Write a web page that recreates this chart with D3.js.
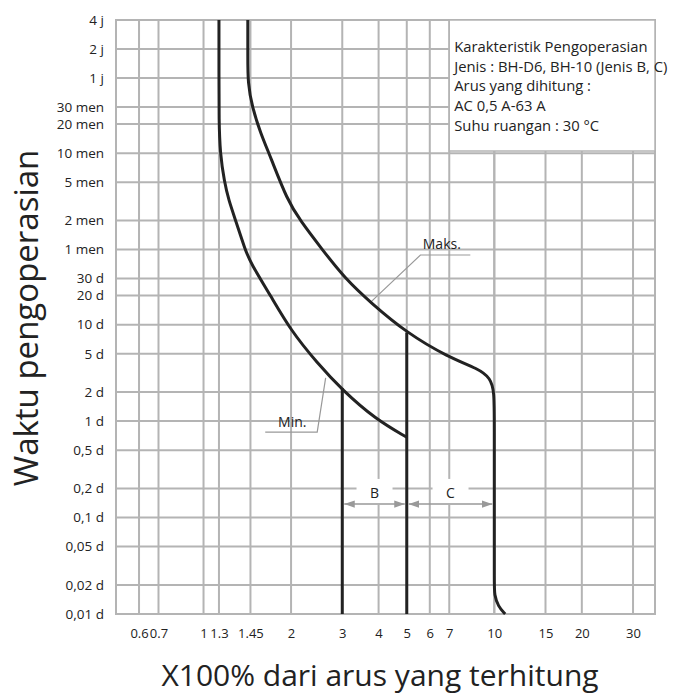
<!DOCTYPE html>
<html>
<head>
<meta charset="utf-8">
<script src="https://cdn.jsdelivr.net/npm/d3@7"></script>
<style>
  body { margin: 0; background: #fff; }
  text { font-family: "Open Sans", sans-serif; fill: #222; }
</style>
</head>
<body>
<div id="chart"></div>
<script>
// x = multiple of rated current, t = operating time in seconds
const xTicks = [0.6, 0.7, 1, 1.13, 1.45, 2, 3, 4, 5, 6, 7, 10, 15, 20, 30];
const xTickLabels = ["0.6", "0.7", "1", "1.3", "1.45", "2", "3", "4", "5", "6", "7", "10", "15", "20", "30"];
const yTicks = [14400, 7200, 3600, 1800, 1200, 600, 300, 120, 60, 30, 20, 10, 5, 2, 1, 0.5, 0.2, 0.1, 0.05, 0.02, 0.01];
const yTickLabels = ["4 j", "2 j", "1 j", "30 men", "20 men", "10 men", "5 men", "2 men", "1 men", "30 d", "20 d", "10 d", "5 d", "2 d", "1 d", "0,5 d", "0,2 d", "0,1 d", "0,05 d", "0,02 d", "0,01 d"];

// Min. curve
const minX = [1.13, 1.13, 1.13, 1.13, 1.14, 1.18, 1.22, 1.29, 1.39, 1.45, 1.70, 1.99, 2.46, 3.0, 3.9, 5.0, 5.0];
const minT = [14400, 14400, 4000, 1300, 600, 300, 196, 120, 60, 44, 20, 8.8, 4.0, 2.1, 1.05, 0.68, 0.68];
// Maks. curve
const maxX = [1.42, 1.42, 1.42, 1.42, 1.47, 1.57, 1.70, 1.94, 2.15, 2.56, 3.07, 3.75, 5.0, 6.95, 8.8, 9.7, 10, 10, 10, 10, 10, 10.3, 10.9, 10.9];
const maxT = [14400, 14400, 6000, 3200, 1800, 970, 547, 196, 120, 60, 30, 17, 8.2, 4.6, 3.5, 2.8, 2.0, 1.0, 0.1, 0.02, 0.016, 0.012, 0.01, 0.01];
// instantaneous trip limits for type B and C
const instX = [3, 5];
const instTop = [2.2, 8.3];

const infoLines = [
  "Karakteristik Pengoperasian",
  "Jenis : BH-D6, BH-10 (Jenis B, C)",
  "Arus yang dihitung :",
  "AC 0,5 A-63 A",
  "Suhu ruangan : 30 °C"
];

const W = 679, H = 694;
const margin = {top: 20, right: 24, bottom: 80, left: 116};
const width = W - margin.left - margin.right;
const height = H - margin.top - margin.bottom;

const svg = d3.select("#chart").append("svg")
  .attr("width", W)
  .attr("height", H);

const x = d3.scaleLog().domain([0.5, 35.7]).range([0, width]);
const y = d3.scaleLog().domain([0.01, 14400]).range([height, 0]);

const g = svg.append("g").attr("transform", `translate(${margin.left},${margin.top})`);

const gridColor = "#b4b4b4";

// grid
g.selectAll(".vgrid").data(xTicks.concat([10])).enter().append("line")
  .attr("x1", d => x(d)).attr("x2", d => x(d))
  .attr("y1", 0).attr("y2", height)
  .attr("stroke", gridColor).attr("stroke-width", 2);

g.selectAll(".hgrid").data(yTicks).enter().append("line")
  .attr("x1", 0).attr("x2", width)
  .attr("y1", d => y(d)).attr("y2", d => y(d))
  .attr("stroke", gridColor).attr("stroke-width", 2);

g.append("rect")
  .attr("width", width).attr("height", height)
  .attr("fill", "none").attr("stroke", gridColor).attr("stroke-width", 2);

// info box
g.append("rect")
  .attr("x", x(7)).attr("y", 0)
  .attr("width", width - x(7)).attr("height", 131)
  .attr("fill", "#fff").attr("stroke", gridColor).attr("stroke-width", 1.5);

g.selectAll(".info").data(infoLines).enter().append("text")
  .attr("x", x(7) + 5)
  .attr("y", (d, i) => 32 + i * 19.7)
  .attr("font-size", 14.8)
  .text(d => d);

// tick labels
const yAxis = d3.axisLeft(y).tickValues(yTicks).tickSize(0).tickPadding(12)
  .tickFormat((d, i) => yTickLabels[i]);
g.append("g").call(yAxis)
  .call(a => a.select(".domain").remove())
  .selectAll("text").attr("font-size", 13.5).attr("font-family", "Open Sans, sans-serif").attr("fill", "#222");

const xAxis = d3.axisBottom(x).tickValues(xTicks).tickSize(0).tickPadding(15)
  .tickFormat((d, i) => xTickLabels[i]);
g.append("g").attr("transform", `translate(0,${height})`).call(xAxis)
  .call(a => a.select(".domain").remove())
  .selectAll("text").attr("font-size", 13).attr("font-family", "Open Sans, sans-serif").attr("fill", "#222");

// annotations (B / C ranges)
const arrowY = 0.138, labelY = 0.18;
const defs = svg.append("defs");
defs.append("marker").attr("id", "ah").attr("viewBox", "0 0 10 10")
  .attr("refX", 10).attr("refY", 5).attr("markerWidth", 7).attr("markerHeight", 7)
  .attr("orient", "auto-start-reverse")
  .append("path").attr("d", "M0,1.5 L10,5 L0,8.5 Z").attr("fill", "#999");

const ranges = [{lo: 3, hi: 5, name: "B"}, {lo: 5, hi: 10, name: "C"}];
ranges.forEach(r => {
  const mid = Math.sqrt(r.lo * r.hi);
  g.append("rect")
    .attr("x", x(mid) - 18).attr("y", y(labelY) - 14)
    .attr("width", 36).attr("height", 26).attr("fill", "#fff");
  g.append("line")
    .attr("x1", x(r.lo) + 2).attr("x2", x(r.hi) - 2)
    .attr("y1", y(arrowY)).attr("y2", y(arrowY))
    .attr("stroke", "#999").attr("stroke-width", 1.5)
    .attr("marker-start", "url(#ah)").attr("marker-end", "url(#ah)");
  g.append("text")
    .attr("x", x(mid)).attr("y", y(labelY) + 5)
    .attr("text-anchor", "middle").attr("font-size", 14)
    .text(r.name);
});

// Maks. / Min. labels with leader lines
const leader = (pts) => g.append("path")
  .attr("d", d3.line().x(d => x(d[0])).y(d => y(d[1]))(pts))
  .attr("fill", "none").attr("stroke", "#999").attr("stroke-width", 1.2);

leader([[3.75, 17], [5.57, 52.7], [8.27, 52.7]]);
g.append("text").attr("x", x(6.6)).attr("y", y(68.5) + 5)
  .attr("text-anchor", "middle").attr("font-size", 14).text("Maks.");

leader([[2.63, 2.8], [2.46, 0.77], [1.63, 0.77]]);
g.append("text").attr("x", x(2.02)).attr("y", y(0.97) + 5)
  .attr("text-anchor", "middle").attr("font-size", 14).text("Min.");

// curves
const curveLine = d3.line()
  .x(d => x(d[0])).y(d => y(d[1]))
  .curve(d3.curveBasis);

const minPts = minX.map((v, i) => [v, minT[i]]);
const maxPts = maxX.map((v, i) => [v, maxT[i]]);

g.selectAll(".inst").data(instX).enter().append("line")
  .attr("x1", d => x(d)).attr("x2", d => x(d))
  .attr("y1", (d, i) => y(instTop[i])).attr("y2", height)
  .attr("stroke", "#222").attr("stroke-width", 3);

[minPts, maxPts].forEach(pts => {
  g.append("path").attr("d", curveLine(pts))
    .attr("fill", "none").attr("stroke", "#222").attr("stroke-width", 3);
});

// axis titles
svg.append("text")
  .attr("transform", "translate(38,318) rotate(-90)")
  .attr("text-anchor", "middle")
  .attr("font-size", 33)
  .text("Waktu pengoperasian");

svg.append("text")
  .attr("x", 380).attr("y", 686)
  .attr("text-anchor", "middle")
  .attr("font-size", 30)
  .text("X100% dari arus yang terhitung");
</script>
</body>
</html>
